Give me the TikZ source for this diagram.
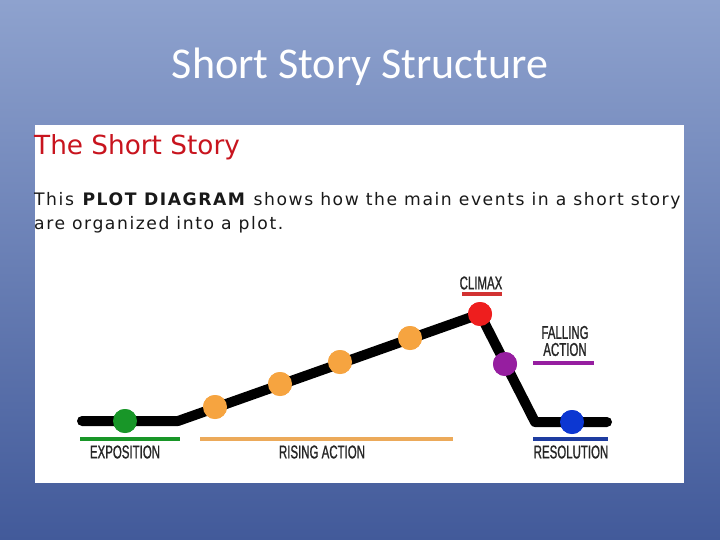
\documentclass[tikz,border=0pt]{standalone}
\usepackage{fontspec}
\setmainfont{DejaVu Sans}
\newfontfamily\bodyfont[LetterSpace=9]{DejaVu Sans}
\newfontfamily\titlefont{Carlito}
\newfontfamily\condfont[FakeStretch=0.62,FakeBold=1]{Liberation Sans}
\definecolor{bgtop}{RGB}{142,162,206}
\definecolor{bgbot}{RGB}{66,90,154}
\definecolor{dgreen}{RGB}{24,150,40}
\definecolor{dorange}{RGB}{246,164,64}
\definecolor{lorange}{RGB}{236,170,90}
\definecolor{dred}{RGB}{238,30,30}
\definecolor{ured}{RGB}{210,50,50}
\definecolor{dpurple}{RGB}{150,30,160}
\definecolor{dblue}{RGB}{12,55,210}
\definecolor{ublue}{RGB}{30,60,160}
\definecolor{hred}{RGB}{200,20,30}
\begin{document}
\begin{tikzpicture}[x=1pt,y=-1pt,
  dot/.style={circle,inner sep=0pt,minimum size=24pt},
  uline/.style={line width=4pt},
  lab/.style={font=\condfont\fontsize{18.5}{18}\selectfont,text=black!85,inner sep=0pt,align=center}]
\shade[top color=bgtop,bottom color=bgbot] (0,0) rectangle (720,540);
\useasboundingbox (0,0) rectangle (720,540);
\node[text=white,font=\titlefont\fontsize{44}{46}\selectfont] (title) at (360,67) {Short Story Structure};
\fill[white] (35,125) rectangle (684,483);
\node[anchor=west,inner sep=0pt,text=hred,font=\fontsize{26.3}{28}\selectfont] (head) at (34,147) {The Short Story};
\node[anchor=west,inner sep=0pt,font=\bodyfont\fontsize{17.2}{18}\selectfont,text=black!90] (l1) at (34,201) {This \textbf{PLOT DIAGRAM} shows how the main events in a short story};
\node[anchor=west,inner sep=0pt,font=\bodyfont\fontsize{17.2}{18}\selectfont,text=black!90] (l2) at (34,225) {are organized into a plot.};
% plot line
\coordinate (s) at (82,421);
\coordinate (k1) at (178,421);
\coordinate (k2) at (535,422);
\coordinate (e) at (607,422);
\node[dot,fill=dgreen] (g) at (125,421) {};
\node[dot,fill=dorange] (o1) at (215,407) {};
\node[dot,fill=dorange] (o2) at (280,384) {};
\node[dot,fill=dorange] (o3) at (340,362) {};
\node[dot,fill=dorange] (o4) at (410,338) {};
\node[dot,fill=dred] (c) at (480,314) {};
\node[dot,fill=dpurple] (p) at (505,364) {};
\node[dot,fill=dblue] (b) at (572,422) {};
\draw[line width=10pt,line cap=round,line join=round] (s) -- (k1) -- (c.center) -- (k2) -- (e);
\foreach \n/\col in {g/dgreen,o1/dorange,o2/dorange,o3/dorange,o4/dorange,c/dred,p/dpurple,b/dblue}
  \fill[\col] (\n) circle (12pt);
% underlines
\coordinate (ug1) at (80,439); \coordinate (ug2) at (180,439);
\coordinate (uo1) at (200,439); \coordinate (uo2) at (453,439);
\coordinate (ub1) at (533,439); \coordinate (ub2) at (608,439);
\coordinate (up1) at (533,363); \coordinate (up2) at (594,363);
\coordinate (ur1) at (462,294); \coordinate (ur2) at (502,294);
\draw[uline,dgreen] (ug1) -- (ug2);
\draw[uline,lorange] (uo1) -- (uo2);
\draw[uline,ublue] (ub1) -- (ub2);
\draw[uline,dpurple] (up1) -- (up2);
\draw[uline,ured] (ur1) -- (ur2);
% labels
\node[lab] (lexp) at (125,452) {EXPOSITION};
\node[lab] (lris) at (322,452) {RISING ACTION};
\node[lab] (lres) at (571,452) {RESOLUTION};
\node[lab] (lcli) at (481,283) {CLIMAX};
\node[lab,font=\condfont\fontsize{18.5}{17}\selectfont] (lfal) at (565,341) {FALLING\\ACTION};
\end{tikzpicture}
\end{document}
